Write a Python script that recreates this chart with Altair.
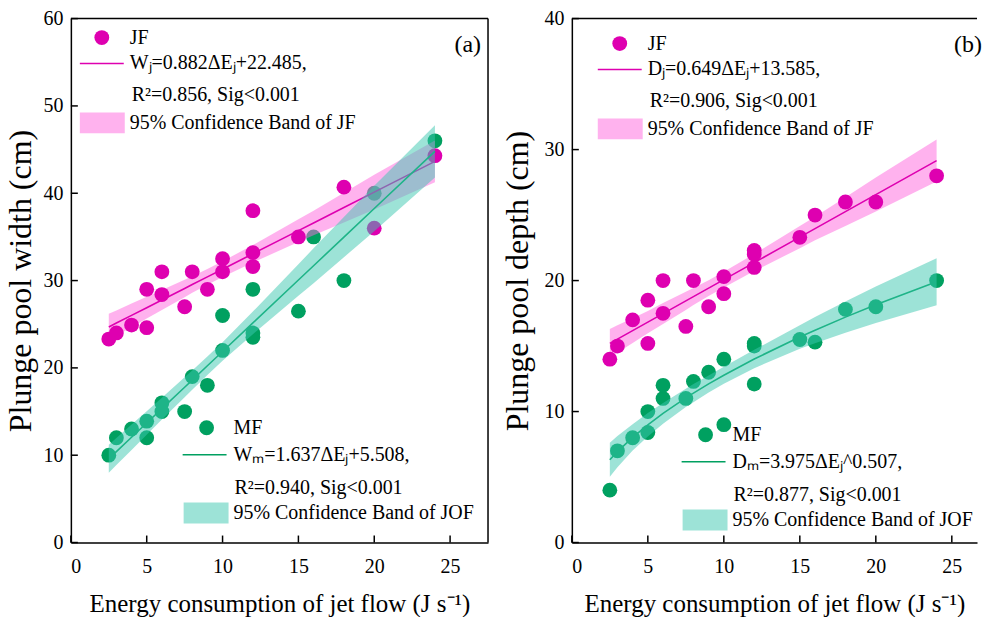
import altair as alt
import pandas as pd

FONT = "Liberation Serif"
MAG = "#DE00B0"
GRN = "#00A060"
PINK = "#FF66DD"
TEAL = "#3CC8AF"

# ---------------- data ----------------
ticks_x = [0, 5, 10, 15, 20, 25]
ticks_y_a = [0, 10, 20, 30, 40, 50, 60]
ticks_y_b = [0, 10, 20, 30, 40]

# panel (a): plunge pool width
jf_a_x = [2.5, 3, 4, 5, 5, 6, 6, 7.5, 8, 9, 10, 10, 12, 12, 12, 15, 18, 20, 24]
jf_a_y = [23.3, 24.0, 24.9, 24.6, 29.0, 28.4, 31.0, 27.0, 31.0, 29.0, 32.5, 31.0, 38.0, 33.2, 31.6, 35.0, 40.7, 36.0, 44.3]
mf_a_x = [2.5, 3, 4, 5, 5, 6, 6, 7.5, 8, 9, 10, 10, 12, 12, 12, 15, 16, 18, 20, 24]
mf_a_y = [10.0, 12.0, 13.0, 13.9, 12.0, 16.0, 15.0, 15.0, 19.0, 18.0, 22.0, 26.0, 24.0, 23.5, 29.0, 26.5, 35.0, 30.0, 40.0, 46.0]

# panel (b): plunge pool depth
jf_b_x = [2.5, 3, 4, 5, 5, 6, 6, 7.5, 8, 9, 10, 10, 12, 12, 12, 15, 16, 18, 20, 24]
jf_b_y = [14.0, 15.0, 17.0, 15.2, 18.5, 17.5, 20.0, 16.5, 20.0, 18.0, 19.0, 20.3, 21.0, 22.0, 22.3, 23.3, 25.0, 26.0, 26.0, 28.0]
mf_b_x = [2.5, 3, 4, 5, 5, 6, 6, 7.5, 8, 9, 10, 10, 12, 12, 12, 15, 16, 18, 20, 24]
mf_b_y = [4.0, 7.0, 8.0, 8.4, 10.0, 11.0, 12.0, 11.0, 12.3, 13.0, 9.0, 14.0, 12.1, 15.0, 15.2, 15.5, 15.3, 17.8, 18.0, 20.0]

# fitted models (as printed on the chart) and 95% band half-widths
fit_x = [2.5, 3, 4, 5, 6, 7.5, 8, 9, 10, 12, 15, 16, 18, 20, 24]
jf_a_coef = (0.882, 22.485)      # linear
mf_a_coef = (1.637, 5.508)       # linear
jf_b_coef = (0.649, 13.585)      # linear
mf_b_coef = (3.975, 0.507)       # power
hw_jf_a = [1.5, 1.45, 1.35, 1.25, 1.15, 1.0, 0.95, 0.9, 0.9, 1.0, 1.3, 1.4, 1.7, 2.0, 2.4]
hw_mf_a = [1.6, 1.55, 1.45, 1.35, 1.25, 1.15, 1.1, 1.05, 1.05, 1.3, 1.8, 2.0, 2.3, 2.6, 3.0]
hw_jf_b = [1.1, 1.05, 0.95, 0.85, 0.8, 0.7, 0.65, 0.6, 0.6, 0.65, 0.85, 0.9, 1.1, 1.3, 1.6]
hw_mf_b = [1.3, 1.2, 1.0, 0.9, 0.8, 0.7, 0.7, 0.65, 0.65, 0.7, 0.9, 1.0, 1.2, 1.4, 1.8]

X_TITLE = "Energy consumption of jet flow (J s\u207b\u00b9)"


def lin(coef):
    return [coef[0] * v + coef[1] for v in fit_x]


def powf(coef):
    return [coef[0] * v ** coef[1] for v in fit_x]


def fit_df(ys, hw):
    return pd.DataFrame({"x": fit_x, "y": ys,
                         "lo": [a - b for a, b in zip(ys, hw)],
                         "hi": [a + b for a, b in zip(ys, hw)]})


dummy = pd.DataFrame({"a": [0]})


def txt(x, y, s, size=20, align="left"):
    return alt.Chart(dummy).mark_text(text=s, font=FONT, fontSize=size, align=align,
                                      baseline="middle", color="black").encode(
        x=alt.value(x), y=alt.value(y))


def dot(x, y, color):
    return alt.Chart(dummy).mark_circle(size=220, color=color, opacity=1).encode(
        x=alt.value(x), y=alt.value(y))


def seg(x1, x2, y, color):
    return alt.Chart(dummy).mark_rule(color=color, strokeWidth=1.6).encode(
        x=alt.value(x1), x2=alt.value(x2), y=alt.value(y))


def box(x1, x2, y1, y2, color):
    return alt.Chart(dummy).mark_rect(color=color, opacity=0.5).encode(
        x=alt.value(x1), x2=alt.value(x2), y=alt.value(y1), y2=alt.value(y2))


def panel(W, H, xmax, ymax, yticks, ytitle, ytp, jx, jy, mx, my, fj, fm, legend, label, right_frame):
    sx = alt.Scale(domain=[0, xmax], nice=False, zero=False)
    sy = alt.Scale(domain=[0, ymax], nice=False, zero=False)
    ax = alt.Axis(values=ticks_x, title=X_TITLE, ticks=False, grid=False, format="d",
                  labelPadding=14, titlePadding=15, titleFontSize=25)
    ay = alt.Axis(values=yticks, title=ytitle, ticks=False, grid=False, format="d",
                  labelPadding=8, titlePadding=ytp, titleFontSize=32)

    def X(f):
        return alt.X(f, type="quantitative", scale=sx, axis=ax)

    def Y(f):
        return alt.Y(f, type="quantitative", scale=sy, axis=ay)

    jf = pd.DataFrame({"x": jx, "y": jy})
    mf = pd.DataFrame({"x": mx, "y": my})

    layers = [
        alt.Chart(mf).mark_circle(size=220, color=GRN, opacity=1).encode(x=X("x"), y=Y("y")),
        alt.Chart(fj).mark_area(color=PINK, opacity=0.5).encode(x=X("x"), y=Y("lo"), y2="hi"),
        alt.Chart(jf).mark_circle(size=220, color=MAG, opacity=1).encode(x=X("x"), y=Y("y")),
        alt.Chart(fj).mark_line(color=MAG, strokeWidth=1.6).encode(x=X("x"), y=Y("y")),
        alt.Chart(fm).mark_line(color=GRN, strokeWidth=1.6).encode(x=X("x"), y=Y("y")),
        alt.Chart(fm).mark_area(color=TEAL, opacity=0.5).encode(x=X("x"), y=Y("lo"), y2="hi"),
        alt.Chart(pd.DataFrame({"t": ticks_x})).mark_rule(color="black", strokeWidth=1.5).encode(
            x=X("t"), y=alt.value(H), y2=alt.value(H - 7)),
        alt.Chart(pd.DataFrame({"t": yticks})).mark_rule(color="black", strokeWidth=1.5).encode(
            y=Y("t"), x=alt.value(0), x2=alt.value(7)),
        alt.Chart(dummy).mark_rule(color="black", strokeWidth=1.5).encode(
            x=alt.value(0), x2=alt.value(W), y=alt.value(0)),
    ]
    if right_frame:
        layers.append(alt.Chart(dummy).mark_rule(color="black", strokeWidth=1.5).encode(
            x=alt.value(W), y=alt.value(0), y2=alt.value(H)))

    (jl, ml) = legend
    # JF legend block
    layers += [
        dot(jl[0] + 22, jl[1], MAG),
        txt(jl[0] + 50, jl[1], "JF"),
        seg(jl[0], jl[0] + 44, jl[1] + 26, MAG),
        txt(jl[0] + 50, jl[1] + 26, jl[2]),
        txt(jl[0] + 52, jl[1] + 58, jl[3]),
        box(jl[0], jl[0] + 45, jl[1] + 75, jl[1] + 96, PINK),
        txt(jl[0] + 50, jl[1] + 86, "95% Confidence Band of JF"),
    ]
    # MF legend block
    layers += [
        dot(ml[0] + 24, ml[1], GRN),
        txt(ml[0] + 51, ml[1], "MF"),
        seg(ml[0], ml[0] + 44, ml[1] + 27, GRN),
        txt(ml[0] + 51, ml[1] + 27, ml[2]),
        txt(ml[0] + 52, ml[1] + 60, ml[3]),
        box(ml[0] + 1, ml[0] + 46, ml[1] + 75, ml[1] + 96, TEAL),
        txt(ml[0] + 51, ml[1] + 85, "95% Confidence Band of JOF"),
        txt(min(411, W + 6), 26, label, size=24, align="right"),
    ]
    return alt.layer(*layers).properties(width=W, height=H)


H = 525
pa = panel(418, H, 27.5, 60, ticks_y_a, "Plunge pool width (cm)", 5,
           jf_a_x, jf_a_y, mf_a_x, mf_a_y,
           fit_df(lin(jf_a_coef), hw_jf_a), fit_df(lin(mf_a_coef), hw_mf_a),
           ((9, 19, "W\u2c7c=0.882\u0394E\u2c7c+22.485,", "R\u00b2=0.856, Sig<0.001"),
            (112, 410, "W\u2098=1.637\u0394E\u2c7c+5.508,", "R\u00b2=0.940, Sig<0.001")),
           "(a)", True)
pb = panel(406, H, 406 / 15.23, 40, ticks_y_b, "Plunge pool depth (cm)", 9,
           jf_b_x, jf_b_y, mf_b_x, mf_b_y,
           fit_df(lin(jf_b_coef), hw_jf_b), fit_df(powf(mf_b_coef), hw_mf_b),
           ((26, 25, "D\u2c7c=0.649\u0394E\u2c7c+13.585,", "R\u00b2=0.906, Sig<0.001"),
            (110, 417, "D\u2098=3.975\u0394E\u2c7c^0.507,", "R\u00b2=0.877, Sig<0.001")),
           "(b)", False)

chart = alt.hconcat(pa, pb, spacing=13).properties(
    padding={"left": -3, "top": 0, "right": 0, "bottom": 0}
).configure_view(stroke=None).configure_axis(
    labelFont=FONT, titleFont=FONT, labelFontSize=20, titleFontSize=22,
    labelColor="black", titleColor="black", titleFontWeight="normal",
    domainColor="black", domainWidth=1.5,
)

chart.save("out.html", embed_options={"renderer": "svg", "actions": False})
